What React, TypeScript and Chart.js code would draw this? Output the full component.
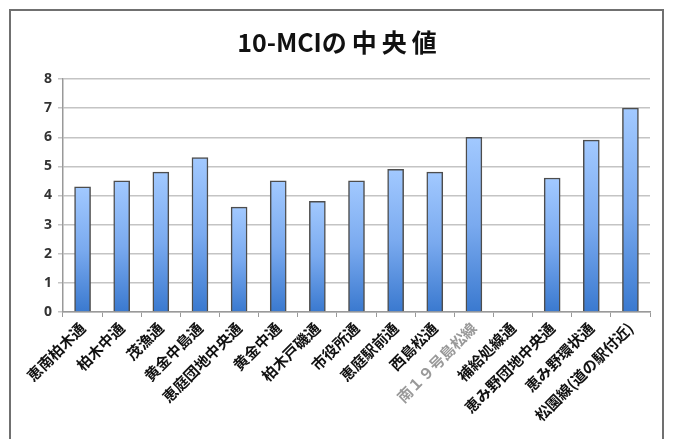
import React, { useEffect, useRef } from "react";
import { Chart, registerables } from "chart.js";

Chart.register(...registerables);

const TITLE = "10-MCIの\u2009中\u2009央\u2009値";
const CATEGORIES = [
  "恵南柏木通",
  "柏木中通",
  "茂漁通",
  "黄金中島通",
  "恵庭団地中央通",
  "黄金中通",
  "柏木戸磯通",
  "市役所通",
  "恵庭駅前通",
  "西島松通",
  "南１９号島松線",
  "補給処線通",
  "恵み野団地中央通",
  "恵み野環状通",
  "松園線(道の駅付近)",
];
const VALUES: (number | null)[] = [4.3, 4.5, 4.8, 5.3, 3.6, 4.5, 3.8, 4.5, 4.9, 4.8, 6.0, null, 4.6, 5.9, 7.0];
const Y_TICKS = [0, 1, 2, 3, 4, 5, 6, 7, 8];
const GRAY_LABEL = "南１９号島松線";

export default function App() {
  const ref = useRef<HTMLCanvasElement | null>(null);
  useEffect(() => {
    if (!ref.current) return;
    const chart = new Chart(ref.current, {
      type: "bar",
      data: {
        labels: CATEGORIES,
        datasets: [
          {
            data: VALUES,
            backgroundColor: (ctx: any) => {
              const c = ctx.chart;
              const area = c.chartArea;
              const ys = c.scales && c.scales.y;
              if (!area || !ys || ctx.type !== "data" || ctx.raw == null) return "#6a9ee6";
              const top = ys.getPixelForValue(ctx.raw);
              const bottom = ys.getPixelForValue(0);
              const g = c.ctx.createLinearGradient(0, top, 0, bottom);
              g.addColorStop(0, "#a2c9ff");
              g.addColorStop(0.5, "#7aaaef");
              g.addColorStop(1, "#3a79cf");
              return g;
            },
            borderColor: "#4d4d4d",
            borderWidth: 1.5,
            barThickness: 16,
          },
        ],
      },
      options: {
        animation: false,
        responsive: false,
        maintainAspectRatio: false,
        layout: { padding: { left: 24, right: 25, top: 0, bottom: 0 } },
        plugins: {
          legend: { display: false },
          tooltip: { enabled: false },
          title: {
            display: true,
            text: TITLE,
            color: "#111",
            font: { family: "'Noto Sans CJK JP', 'Open Sans', sans-serif", size: 25, weight: "bold", lineHeight: 1.2 },
            padding: { top: 27, bottom: 22 },
          },
        },
        scales: {
          x: {
            offset: true,
            grid: {
              display: true,
              drawOnChartArea: false,
              drawTicks: true,
              tickLength: 5,
              color: "#999",
              offset: true,
            },
            border: { display: true, color: "#999", width: 1.5 },
            ticks: {
              autoSkip: false,
              minRotation: 45,
              maxRotation: 45,
              padding: 2,
              color: (ctx: any) => (CATEGORIES[ctx.index] === GRAY_LABEL ? "#999" : "#111"),
              font: { family: "'Noto Sans CJK JP', sans-serif", size: 15, weight: "bold" },
            },
            afterFit: (s: any) => {
              s.height = 127;
            },
          },
          y: {
            min: 0,
            max: 8,
            afterBuildTicks: (s: any) => {
              s.ticks = Y_TICKS.map((v) => ({ value: v }));
            },
            grid: {
              color: "#c4c4c4",
              lineWidth: 1.5,
              drawTicks: true,
              tickLength: 5,
            },
            border: { display: true, color: "#999", width: 1.5 },
            ticks: {
              padding: 6,
              color: "#333",
              font: { family: "'Open Sans', sans-serif", size: 14, weight: "bold" },
            },
            afterFit: (s: any) => {
              s.width = 39;
            },
          },
        },
      },
    });
    return () => chart.destroy();
  }, []);
  return (
    <div style={{ position: "absolute", left: 0, top: 0, width: 675, height: 439, background: "#fff", overflow: "hidden" }}>
      <canvas ref={ref} width={675} height={439} style={{ position: "absolute", left: 0, top: 0 }} />
      <div
        style={{
          position: "absolute",
          left: 9,
          top: 9,
          width: 651,
          height: 440,
          border: "2px solid #707070",
          pointerEvents: "none",
        }}
      />
    </div>
  );
}
